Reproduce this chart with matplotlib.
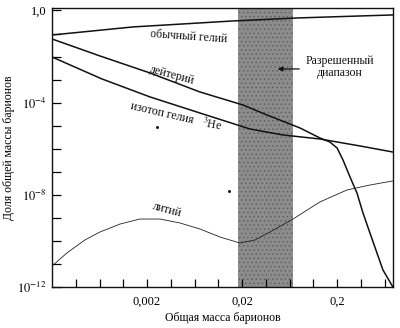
import matplotlib
matplotlib.use('Agg')
import matplotlib.pyplot as plt
from matplotlib.ticker import FixedLocator, NullFormatter

plt.rcParams['font.family'] = ['Liberation Serif', 'DejaVu Serif']
plt.rcParams['mathtext.fontset'] = 'stix'
plt.rcParams['hatch.linewidth'] = 0.5

# values (total baryon mass -> mass fraction)
helium_x = [2.0e-4, 4.2e-4, 1.42e-3, 4.78e-3, 0.016, 0.0757, 0.774]
helium_y = [0.0865, 0.117, 0.193, 0.260, 0.351, 0.473, 0.640]

deut_x = [2.0e-4, 6.4e-4, 2.15e-3, 7.2e-3, 0.0205, 0.0366, 0.0815, 0.132, 0.168,
          0.200, 0.231, 0.274, 0.324, 0.375, 0.444, 0.526, 0.608, 0.774]
deut_y = [0.058, 0.0106, 1.94e-3, 2.91e-4, 7.9e-5, 2.92e-5, 7.96e-6, 2.93e-6, 1.96e-6,
          1.08e-6, 3.25e-7, 5.9e-8, 1.2e-8, 1.63e-9, 2.2e-10, 3.0e-11, 5.5e-12, 1e-12]

he3_x = [2.0e-4, 6.7e-4, 2.15e-3, 7.2e-3, 0.0242, 0.054, 0.132, 0.348, 0.774]
he3_y = [9.6e-3, 1.07e-3, 1.77e-4, 3.56e-5, 7.2e-6, 3.95e-6, 2.65e-6, 1.32e-6, 7.2e-7]

li_x = [2.0e-4, 2.87e-4, 4.44e-4, 6.4e-4, 1.04e-3, 1.68e-3, 2.74e-3, 4.44e-3, 7.2e-3,
        0.0117, 0.0190, 0.0274, 0.0394, 0.0687, 0.132, 0.254, 0.444, 0.774]
li_y = [8.1e-12, 3.0e-11, 1.1e-10, 2.44e-10, 5.4e-10, 8.9e-10, 8.9e-10, 6.0e-10, 3.3e-10,
        1.48e-10, 8.1e-11, 1.1e-10, 2.44e-10, 8.9e-10, 4.9e-9, 1.62e-8, 2.67e-8, 4.0e-8]

allowed = [0.0182, 0.069]   # allowed range of total baryon mass
specks_x = [2.54e-3, 0.0146]
specks_y = [8.8e-6, 1.47e-8]

y_ticks = [1e-12, 1e-8, 1e-4, 1.0]
y_labels = [r'$10^{-12}$', r'$10^{-8}$', r'$10^{-4}$', '1,0']
x_ticks = [0.002, 0.02, 0.2]
x_labels = ['0,002', '0,02', '0,2']

fig = plt.figure(figsize=(4.0, 3.28), dpi=100)
ax = fig.add_axes([0.13, 0.125, 0.8525, 0.8506])
ax.set_xscale('log')
ax.set_yscale('log')
ax.set_xlim(2.0e-4, 0.776)
ax.set_ylim(1e-12, 1.28)

ax.axvspan(allowed[0], allowed[1], facecolor='#8c8c8c', edgecolor='#5c5c5c',
           hatch='....', linewidth=0, zorder=1)

ax.plot(helium_x, helium_y, color='#111111', lw=1.1, zorder=3)
ax.plot(deut_x, deut_y, color='#111111', lw=1.1, zorder=3)
ax.plot(he3_x, he3_y, color='#111111', lw=1.1, zorder=3)
ax.plot(li_x, li_y, color='#222222', lw=0.6, zorder=3)
ax.scatter(specks_x, specks_y, s=1.5, color='#222222', zorder=3)

txt = dict(fontsize=8.5, color='#111111', ha='center', va='center', zorder=4)
ax.text(5.5e-3, 0.071, 'обычный гелий', rotation=-4, **txt)
ax.text(3.66e-3, 1.6e-3, 'дейтерий', rotation=-15, **txt)
ax.text(2.9e-3, 3.3e-5, 'изотоп гелия', rotation=-13, **txt)
ax.text(9.6e-3, 1.15e-5, r'$^{3}$He', rotation=-10, **txt)
ax.text(3.25e-3, 2.2e-9, 'литий', rotation=-15, **txt)
ax.text(0.215, 3.5e-3, 'Разрешенный\nдиапазон', fontsize=8.5, color='#111111',
        ha='center', va='center', linespacing=1.0, zorder=4)
ax.annotate('', xy=(0.0443, 2.9e-3), xytext=(0.0855, 2.9e-3),
            arrowprops=dict(arrowstyle='-|>', color='#111111', lw=0.9,
                            mutation_scale=7), zorder=4)

ax.yaxis.set_major_locator(FixedLocator(y_ticks))
ax.set_yticklabels(y_labels, fontsize=9)
ax.yaxis.set_minor_locator(FixedLocator([10.0 ** k for k in range(-11, 0) if k % 4 != 0]))
ax.yaxis.set_minor_formatter(NullFormatter())
ax.xaxis.set_major_locator(FixedLocator(x_ticks))
ax.set_xticklabels(x_labels, fontsize=9)
ax.xaxis.set_minor_locator(FixedLocator([2e-4 * 10 ** (k / 4) for k in range(1, 16) if k % 4 != 0]))
ax.xaxis.set_minor_formatter(NullFormatter())
ax.tick_params(axis='y', which='both', direction='in', length=6.5, width=0.9, pad=4)
ax.tick_params(axis='x', which='both', direction='in', length=5.5, width=0.9, pad=6)

for s in ax.spines.values():
    s.set_linewidth(1.0)
    s.set_color('#111111')

ax.set_xlabel('Общая масса барионов', fontsize=8.5, labelpad=3)
ax.set_ylabel('Доля общей массы барионов', fontsize=8.5)
ax.yaxis.set_label_coords(-0.108, 0.5)

fig.savefig('out.png', dpi=100)
